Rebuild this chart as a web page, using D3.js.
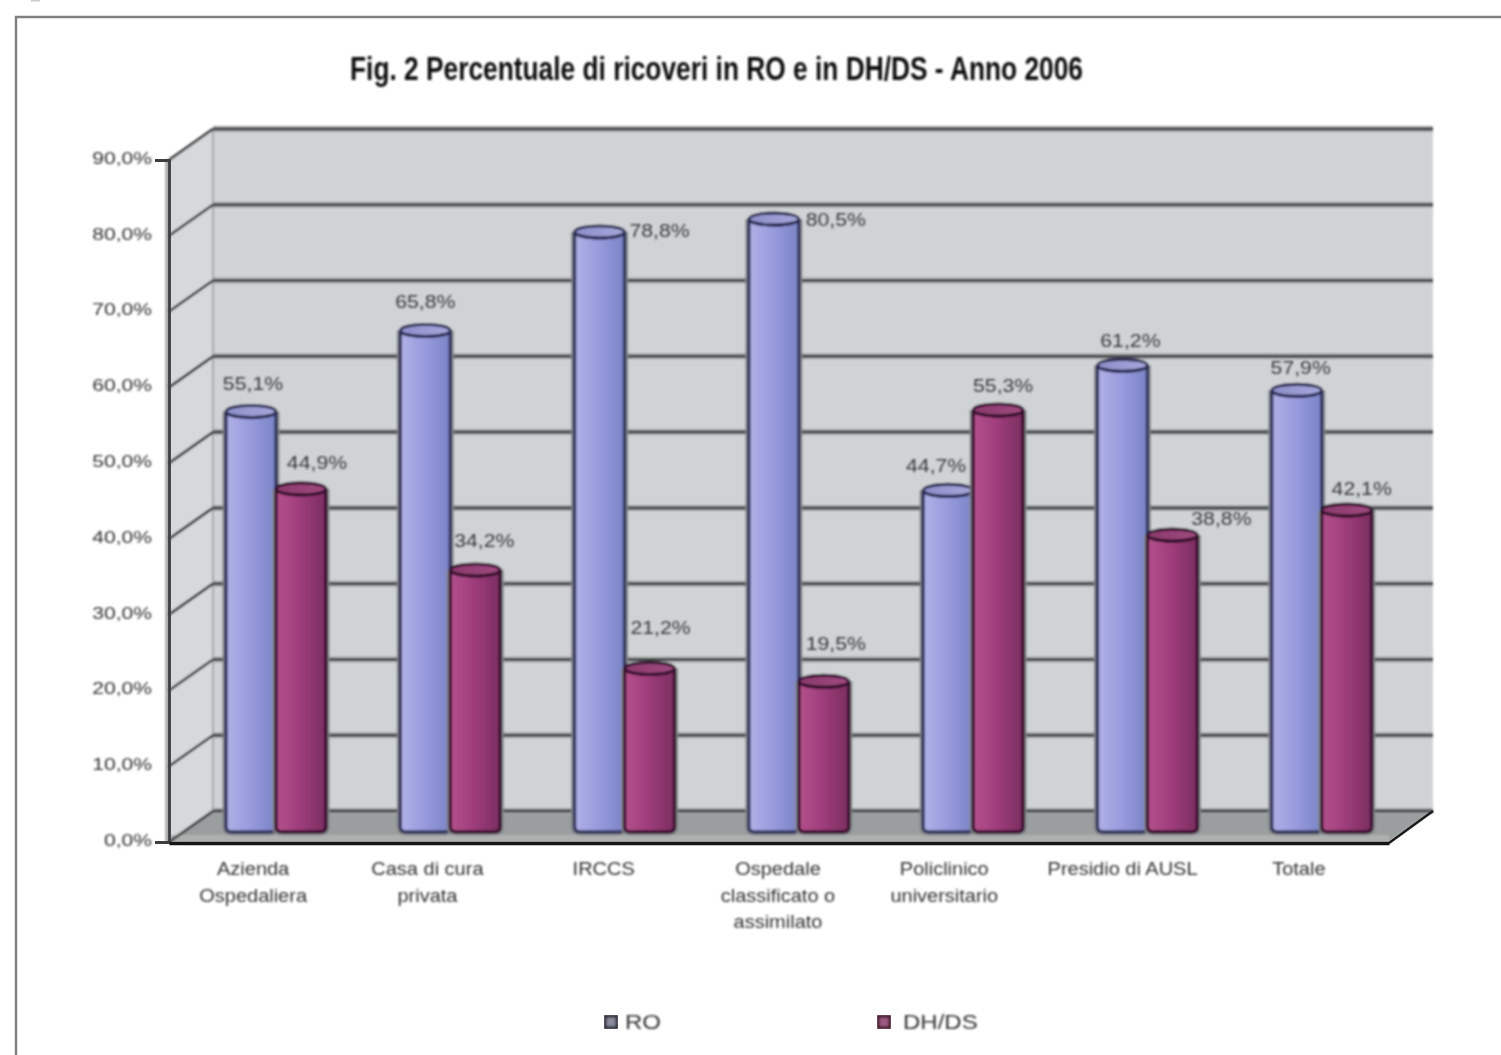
<!DOCTYPE html>
<html><head><meta charset="utf-8">
<script src="https://cdn.jsdelivr.net/npm/d3@7/dist/d3.min.js"></script>
<style>html,body{margin:0;padding:0;background:#fff}svg{display:block}text{font-family:"Liberation Sans",Arial,sans-serif}</style>
</head><body><svg id="c" width="1501" height="1055"></svg>
<script>
const categories = [["Azienda","Ospedaliera"],["Casa di cura","privata"],["IRCCS"],["Ospedale","classificato o","assimilato"],["Policlinico","universitario"],["Presidio di AUSL"],["Totale"]];
const seriesNames = ["RO","DH/DS"];
const valuesRO = [55.1,65.8,78.8,80.5,44.7,61.2,57.9];
const valuesDH = [44.9,34.2,21.2,19.5,55.3,38.8,42.1];
const yTicks = [0,10,20,30,40,50,60,70,80,90];
const yTickLabels = ["0,0%","10,0%","20,0%","30,0%","40,0%","50,0%","60,0%","70,0%","80,0%","90,0%"];
const labelsRO = ["55,1%","65,8%","78,8%","80,5%","44,7%","61,2%","57,9%"];
const labelsDH = ["44,9%","34,2%","21,2%","19,5%","55,3%","38,8%","42,1%"];
const titleText = "Fig. 2 Percentuale di ricoveri in RO e in DH/DS - Anno 2006";
// label nudges (layout only)
const nudgeRO = [[2,-15],[0,-16],[60,11],[62,13],[-12,-12],[8,-12],[4,-10]];
const nudgeDH = [[16,-14],[9,-17],[11,-28],[12,-25],[5,-12],[49,-4],[15,-9]];
const nudgeCat = [0,0,2,2,-6,-2,0];

const svg = d3.select("#c");
const defs = svg.append("defs");
defs.append("filter").attr("id","soft").attr("x","-2%").attr("y","-2%").attr("width","104%").attr("height","104%")
  .append("feGaussianBlur").attr("stdDeviation",1);
defs.append("filter").attr("id","softText").attr("x","-5%").attr("y","-20%").attr("width","110%").attr("height","140%")
  .append("feGaussianBlur").attr("stdDeviation",0.8);
function grad(id,stops){
  const g=defs.append("linearGradient").attr("id",id).attr("x1",0).attr("x2",1).attr("y1",0).attr("y2",0);
  stops.forEach(([o,c])=>g.append("stop").attr("offset",o).attr("stop-color",c));
}
grad("gBlue",[[0,"#b0b2e6"],[0.45,"#9a9cde"],[1,"#7a84c6"]]);
grad("gRed",[[0,"#b4528c"],[0.45,"#a03e7c"],[1,"#7a2e60"]]);
grad("gBlueTop",[[0,"#8c8ec8"],[1,"#a6a8dc"]]);
grad("gRedTop",[[0,"#8a3a6c"],[1,"#a04a80"]]);
// widen text horizontally: the reference glyphs are stretched
function stretch(sel,k){ sel.each(function(){ const n=this.getComputedTextLength();
  d3.select(this).attr("textLength",n*k).attr("lengthAdjust","spacingAndGlyphs"); }); }

const frontX = 169, frontRight = 1389, depthX = 44, depthY = -31, barLift = -13, baseLift = -10;
const y = d3.scaleLinear().domain([0,90]).range([842,160]);
const x = d3.scaleBand().domain(d3.range(categories.length)).range([frontX,frontRight]);
const inner = d3.scaleBand().domain([0,1]).range([57,157]);
const g = svg.append("g").attr("filter","url(#soft)");

// frame
svg.append("path").attr("d","M16,1055V17H1501").attr("fill","none").attr("stroke","#808080").attr("stroke-width",2.4);
svg.append("rect").attr("x",31).attr("y",0).attr("width",9).attr("height",1.5).attr("fill","#ccc");

// title
svg.append("text").attr("x",350).attr("y",80).attr("font-size",33).attr("font-weight","bold").attr("fill","#111")
  .attr("textLength",733).attr("lengthAdjust","spacingAndGlyphs").attr("filter","url(#softText)").text(titleText);

// walls
const wallL = frontX+depthX, wallR = frontRight+depthX;
g.append("rect").attr("x",wallL).attr("y",y(90)+depthY).attr("width",wallR-wallL).attr("height",y(0)-y(90))
  .attr("fill","#d0d3d6");
g.append("path").attr("d",`M${frontX},${y(90)}L${wallL},${y(90)+depthY}V${y(0)+depthY}L${frontX},${y(0)}Z`).attr("fill","#d6d8da");
g.append("path").attr("d",`M${frontX},${y(0)}L${wallL},${y(0)+depthY}H${wallR}L${frontRight},${y(0)}Z`).attr("fill","#9a9e9e");
g.append("line").attr("x1",frontX).attr("x2",frontRight).attr("y1",y(0)-4).attr("y2",y(0)-4).attr("stroke","#aeb0b0").attr("stroke-width",6);
g.append("line").attr("x1",wallL).attr("x2",wallL).attr("y1",y(90)+depthY).attr("y2",y(0)+depthY).attr("stroke","#a4a6a8").attr("stroke-width",2);

// gridlines
g.selectAll(".h").data(yTicks).join("line").attr("class","h").attr("x1",wallL).attr("x2",wallR)
  .attr("y1",d=>y(d)+depthY).attr("y2",d=>y(d)+depthY).attr("stroke","#a8aaac").attr("stroke-width",6);
g.selectAll(".g").data(yTicks).join("line").attr("class","g").attr("x1",wallL).attr("x2",wallR)
  .attr("y1",d=>y(d)+depthY).attr("y2",d=>y(d)+depthY).attr("stroke","#3e4244").attr("stroke-width",3);
g.selectAll(".s").data(yTicks).join("line").attr("class","s").attr("x1",frontX).attr("x2",wallL)
  .attr("y1",d=>y(d)).attr("y2",d=>y(d)+depthY).attr("stroke","#282a2c").attr("stroke-width",2.6);

// bars
const rows = categories.map((c,i)=>[{i,s:0,v:valuesRO[i]},{i,s:1,v:valuesDH[i]}]).flat();
const bx = d=>x(d.i)+inner(d.s), bw = inner.bandwidth(), ry = 6, base = y(0)+baseLift;
const barTop = d=>y(d.v)+barLift;
const body = d=>{const l=bx(d),r=l+bw,t=barTop(d);
  return `M${l},${t}L${l},${base-5}Q${l},${base} ${l+6},${base}L${r-6},${base}Q${r},${base} ${r},${base-5}L${r},${t}A${bw/2},${ry} 0 0 1 ${l},${t}Z`;};
const bars = g.selectAll(".bar").data(rows).join("g").attr("class","bar");
bars.append("path").attr("d",body).attr("fill","none").attr("stroke","#85888a").attr("stroke-width",7);
bars.append("path").attr("d",body).attr("fill",d=>d.s?"url(#gRed)":"url(#gBlue)")
  .attr("stroke",d=>d.s?"#3a1030":"#32345f").attr("stroke-width",3.4);
bars.append("ellipse").attr("cx",d=>bx(d)+bw/2).attr("cy",barTop).attr("rx",bw/2).attr("ry",ry)
  .attr("fill",d=>d.s?"url(#gRedTop)":"url(#gBlueTop)").attr("stroke",d=>d.s?"#2c0c28":"#20204c").attr("stroke-width",2.8);

// axes
const yAxis = d3.axisLeft(y).tickValues(yTicks).tickFormat((d,i)=>yTickLabels[i]).tickSize(14).tickPadding(3);
const ya = svg.append("g").attr("transform",`translate(${frontX},0)`).call(yAxis);
g.append("line").attr("x1",frontX-2).attr("x2",frontX-2).attr("y1",y(90)).attr("y2",y(0)).attr("stroke","#999").attr("stroke-width",3);
ya.select(".domain").attr("stroke","#3c3e40").attr("stroke-width",2.8);
ya.selectAll("line").attr("stroke","#3c3e40").attr("stroke-width",2).attr("filter","url(#soft)");
ya.selectAll("text").attr("font-size",17).attr("font-weight",400).attr("fill","#333").attr("font-family","Liberation Sans").attr("dy","0.2em").attr("filter","url(#softText)").call(stretch,1.24);

const xAxis = d3.axisBottom(x).tickSize(0).tickPadding(0).tickFormat(()=>"");
const xa = svg.append("g").attr("transform",`translate(0,${y(0)+1})`).call(xAxis);
xa.select(".domain").attr("stroke","#161616").attr("stroke-width",3.4);
svg.append("line").attr("x1",frontRight).attr("y1",y(0)+1).attr("x2",wallR).attr("y2",y(0)+depthY).attr("stroke","#1c1c1c").attr("stroke-width",2.6);
const edges = categories.map((c,i)=>x(i)).concat([frontRight]);
svg.selectAll(".xt").data(edges).join("line").attr("class","xt").attr("x1",d=>d).attr("x2",d=>d).attr("y1",y(0)+1).attr("y2",y(0)+11)
  .attr("stroke","#444").attr("stroke-width",2).attr("filter","url(#soft)");

// category labels
const catLabels = svg.append("g").attr("font-size",18).attr("fill","#333").attr("text-anchor","middle").attr("filter","url(#softText)");
categories.forEach((lines,i)=>{
  lines.forEach((t,j)=>catLabels.append("text").attr("x",x(i)+x.bandwidth()/2-3+nudgeCat[i]).attr("y",875+j*26.5).text(t));
});
catLabels.selectAll("text").call(stretch,1.11);

// value labels
const valueLabels = svg.append("g").attr("font-size",18).attr("fill","#3a3a3a").attr("text-anchor","middle").attr("filter","url(#softText)");
rows.forEach(d=>{
  const n=(d.s?nudgeDH:nudgeRO)[d.i], txt=(d.s?labelsDH:labelsRO)[d.i];
  valueLabels.append("text").attr("x",bx(d)+bw/2+n[0]).attr("y",barTop(d)+n[1]-6).text(txt);
});
valueLabels.selectAll("text").call(stretch,1.18);

// legend
const legend = svg.append("g");
const legendX = d3.scaleOrdinal().domain(seriesNames).range([605,878]);
seriesNames.forEach((n,i)=>{
  legend.append("rect").attr("x",legendX(n)).attr("y",1016).attr("width",12).attr("height",12)
    .attr("fill",i?"#9a5a80":"#8a8c9c").attr("stroke",i?"#401828":"#282830").attr("stroke-width",3.2).attr("filter","url(#soft)");
  legend.append("text").attr("x",legendX(n)+(i?25:20)).attr("y",1029).attr("font-size",20).attr("fill","#333").attr("filter","url(#softText)").text(n);
});
legend.selectAll("text").call(stretch,1.2);
</script></body></html>
